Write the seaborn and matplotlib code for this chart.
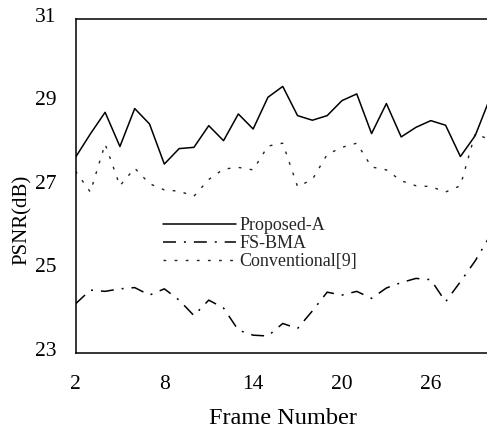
import numpy as np
import pandas as pd
import matplotlib
matplotlib.use("Agg")
import matplotlib.pyplot as plt
import matplotlib.transforms as mtransforms
import seaborn as sns

frames = list(range(2, 31))
proposed_a = [27.68, 28.24, 28.76, 27.94, 28.85, 28.48, 27.52, 27.89, 27.92, 28.44,
              28.08, 28.72, 28.36, 29.12, 29.38, 28.68, 28.57, 28.68, 29.04, 29.20,
              28.25, 28.97, 28.17, 28.40, 28.56, 28.45, 27.70, 28.20, 29.10]
fs_bma = [24.17, 24.50, 24.47, 24.53, 24.56, 24.38, 24.53, 24.26, 23.89, 24.26,
          24.07, 23.54, 23.42, 23.40, 23.70, 23.58, 24.00, 24.45, 24.38, 24.47,
          24.30, 24.55, 24.68, 24.78, 24.75, 24.22, 24.70, 25.20, 25.80]
conventional = [27.35, 26.85, 28.00, 27.00, 27.42, 27.05, 26.90, 26.87, 26.75, 27.15,
                27.40, 27.44, 27.38, 27.95, 28.02, 26.98, 27.15, 27.75, 27.92, 28.02,
                27.45, 27.38, 27.12, 27.00, 26.98, 26.85, 27.00, 28.25, 28.10]
series_names = ["Proposed-A", "FS-BMA", "Conventional[9]"]
xticks = [2, 8, 14, 20, 26]
yticks = [23, 25, 27, 29, 31]

sns.set_theme(style="white")
plt.rcParams["font.family"] = ["Liberation Serif", "DejaVu Serif"]

fig = plt.figure(figsize=(4.87, 4.34), dpi=100)
W, H = 487.0, 434.0
left, right, top, bottom = 75.5, 490.0, 18.8, 352.7
ax = fig.add_axes([left / W, 1 - bottom / H, (right - left) / W, (bottom - top) / H])

styles = ["-", (0, (8.5, 5.2, 1.3, 5.2)), (0, (2, 6))]
colors = ["black", "black", "#222222"]
widths = [1.1, 1.1, 1.0]
for name, vals, ls, c, lw in zip(series_names, [proposed_a, fs_bma, conventional],
                                 styles, colors, widths):
    sns.lineplot(x=frames, y=vals, ax=ax, color=c, linestyle=ls, linewidth=lw,
                 label=name)

ax.set_xlim(2, 30)
ax.set_ylim(23, 31)
ax.set_xticks(xticks)
ax.set_yticks(yticks)
ax.tick_params(axis="both", which="both", direction="in", length=3.6, width=1.0,
               color="black", labelsize=15.5, labelcolor="black",
               top=False, right=False)
ax.tick_params(axis="x", pad=16)
ax.tick_params(axis="y", pad=14)
for lab in ax.get_yticklabels():
    lab.set_transform(lab.get_transform() +
                      mtransforms.ScaledTranslation(0, 3 / 72, fig.dpi_scale_trans))

for s in ax.spines.values():
    s.set_color("black")
    s.set_linewidth(1.1)

ax.set_xlabel("Frame Number", fontsize=17.5, color="black")
ax.xaxis.set_label_coords(0.5, (bottom - 408) / (bottom - top))
ax.set_ylabel("PSNR(dB)", fontsize=15, color="black")
ax.yaxis.set_label_coords((31.5 - left) / (right - left), (bottom - 220) / (bottom - top))

ax.legend(loc="upper left",
          bbox_to_anchor=((163.3 - left) / (right - left), (bottom - 217.5) / (bottom - top)),
          frameon=False, borderaxespad=0, borderpad=0, fontsize=13,
          handlelength=4.05, handletextpad=0.18, labelspacing=0.04)

fig.savefig("out.png", dpi=100)
